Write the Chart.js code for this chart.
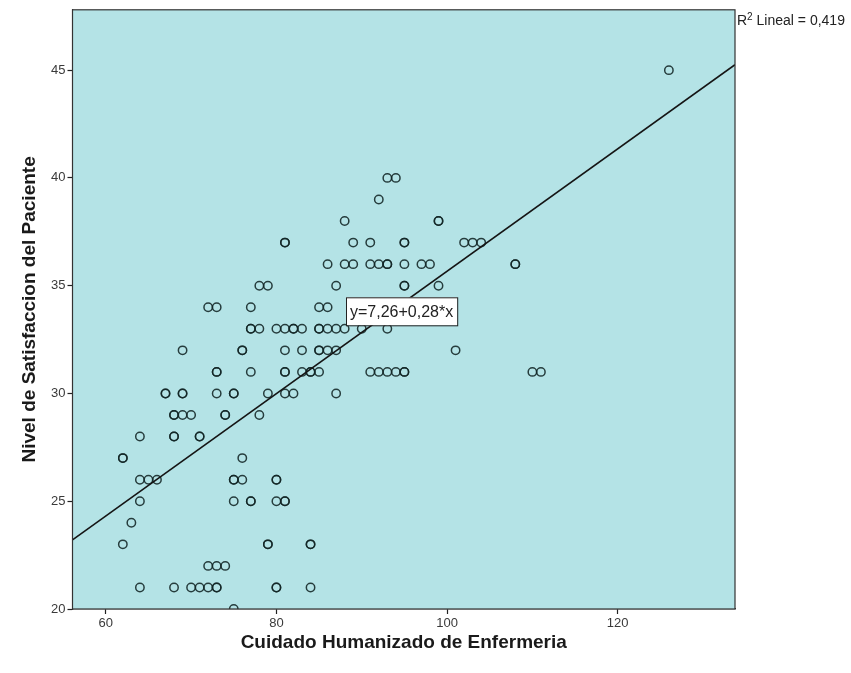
<!DOCTYPE html>
<html>
<head>
<meta charset="utf-8">
<script src="https://cdn.jsdelivr.net/npm/chart.js@4/dist/chart.umd.min.js"></script>
<style>
  html,body{margin:0;padding:0;background:#fff;}
  #wrap{width:851px;height:673px;}
</style>
</head>
<body>
<div id="wrap"><canvas id="sc" width="851" height="673"></canvas></div>
<script>
// ── Data ─────────────────────────────────────────────────────────────────────
// satisfaction level (y) and the care scores (x) of the cases on that row
const satisfNiveles = [45, 40, 39, 38, 37, 36, 35, 34, 33, 32, 31, 30, 29, 28, 27, 26, 25, 24, 23, 22, 21, 20];
const cuidadoPorNivel = [
  [126],
  [93, 94],
  [92],
  [88, 99, 99],
  [81, 81, 89, 91, 95, 95, 102, 103, 104],
  [86, 88, 89, 91, 92, 93, 93, 95, 97, 98, 108, 108],
  [78, 79, 87, 95, 95, 99],
  [72, 73, 77, 85, 86],
  [77, 77, 78, 80, 81, 82, 82, 83, 85, 85, 86, 87, 88, 90, 93],
  [69, 76, 76, 81, 83, 85, 85, 86, 87, 101],
  [73, 73, 77, 81, 81, 83, 84, 84, 85, 91, 92, 93, 94, 95, 95, 110, 111],
  [67, 67, 69, 69, 73, 75, 75, 79, 81, 82, 87],
  [68, 68, 69, 70, 74, 74, 78],
  [64, 68, 68, 71, 71],
  [62, 62, 76],
  [64, 65, 66, 75, 75, 76, 80, 80],
  [64, 75, 77, 77, 80, 81, 81],
  [63],
  [62, 79, 79, 84, 84],
  [72, 73, 74],
  [64, 68, 70, 71, 72, 73, 73, 80, 80, 84],
  [75]
];
// fit line as drawn (ends at the plot edges)
const lineaX = [56.1, 133.75];
const lineaY = [23.21, 45.25];
const xTicks = [60, 80, 100, 120];
const yTicks = [20, 25, 30, 35, 40, 45];
const ecuacion = 'y=7,26+0,28*x';
const r2Texto = ' Lineal = 0,419';

const FONT = 'Arial, "Liberation Sans", sans-serif';

const puntos = [];
satisfNiveles.forEach((y, i) => cuidadoPorNivel[i].forEach(x => puntos.push({x, y})));
const linea = lineaX.map((x, i) => ({x, y: lineaY[i]}));

// ── Plugins ──────────────────────────────────────────────────────────────────
const fondo = {id:'fondo', beforeDatasetsDraw(chart){
  const {ctx, chartArea:a} = chart;
  ctx.save(); ctx.fillStyle = '#b4e3e6';
  ctx.fillRect(a.left, a.top, a.right-a.left, a.bottom-a.top);
  ctx.restore();
}};

const marco = {id:'marco', afterDraw(chart){
  const {ctx, chartArea:a} = chart;
  ctx.save();
  // frame
  ctx.strokeStyle = '#333'; ctx.lineWidth = 1.2;
  ctx.strokeRect(a.left, a.top, a.right-a.left, a.bottom-a.top);
  // equation box
  const bx = a.left + 273.5, by = a.top + 287.5;
  ctx.font = '16px ' + FONT;
  const tw = ctx.measureText(ecuacion).width;
  ctx.fillStyle = '#fff'; ctx.fillRect(bx, by, tw + 8, 28);
  ctx.strokeStyle = '#222'; ctx.lineWidth = 1; ctx.strokeRect(bx + 0.5, by + 0.5, tw + 8, 28);
  ctx.fillStyle = '#222'; ctx.textBaseline = 'middle'; ctx.textAlign = 'left';
  ctx.fillText(ecuacion, bx + 4, by + 15);
  // R² label
  ctx.font = '14px ' + FONT; ctx.textBaseline = 'alphabetic';
  let rx = a.right + 2, ry = a.top + 15;
  ctx.fillText('R', rx, ry); rx += ctx.measureText('R').width;
  ctx.font = '10px ' + FONT; ctx.fillText('2', rx, ry - 5); rx += ctx.measureText('2').width;
  ctx.font = '14px ' + FONT; ctx.fillText(r2Texto, rx, ry);
  // axis titles
  ctx.fillStyle = '#1a1a1a'; ctx.font = 'bold 19px ' + FONT;
  ctx.textAlign = 'center'; ctx.textBaseline = 'middle';
  ctx.fillText('Cuidado Humanizado de Enfermeria', (a.left + a.right) / 2, 643);
  ctx.translate(30, (a.top + a.bottom) / 2); ctx.rotate(-Math.PI / 2);
  ctx.fillText('Nivel de Satisfaccion del Paciente', 0, 0);
  ctx.restore();
}};

const ejeComun = (ticks) => ({
  type:'linear',
  afterBuildTicks: s => { s.ticks = ticks.map(v => ({value:v})); },
  grid:{drawOnChartArea:false, drawTicks:true, tickLength:5, tickColor:'#222', tickWidth:1.2},
  border:{display:true, color:'#333', width:1.2},
  ticks:{color:'#3a3a3a', padding:2, font:{family:FONT, size:13}}
});

const xAx = Object.assign(ejeComun(xTicks), {min:56.1, max:133.75, afterFit: s => { s.height = 64; }});
const yAx = Object.assign(ejeComun(yTicks), {min:20, max:47.8, afterFit: s => { s.width = 72.5; }});

new Chart(document.getElementById('sc').getContext('2d'), {
  type:'scatter',
  plugins:[fondo, marco],
  data:{datasets:[
    {type:'scatter', data:puntos, clip:0, pointRadius:4.2, pointHoverRadius:4.2,
     borderColor:'rgba(18,38,38,0.88)', backgroundColor:'rgba(0,0,0,0)', borderWidth:1.5, order:2},
    {type:'line', data:linea, clip:0, borderColor:'#151515', borderWidth:1.6, pointRadius:0, fill:false, order:1}
  ]},
  options:{responsive:false, animation:false, devicePixelRatio:1,
    layout:{padding:{top:8, right:116, left:0, bottom:0}},
    plugins:{legend:{display:false}, tooltip:{enabled:false}},
    scales:{x:xAx, y:yAx}}
});
</script>
</body>
</html>
